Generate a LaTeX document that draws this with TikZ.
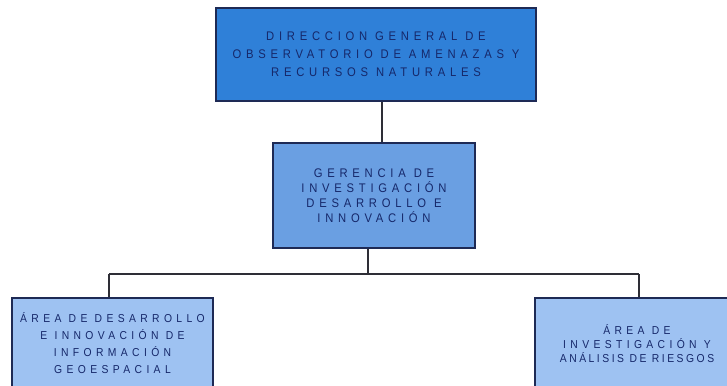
\documentclass[tikz,border=0pt]{standalone}
\usepackage{fontspec}
\setmainfont{Liberation Sans}[LetterSpace=38,FakeStretch=0.9]
\newfontfamily\tightfont{Liberation Sans}[LetterSpace=22,FakeStretch=0.9]
\begin{document}
\begin{tikzpicture}[x=1pt,y=-1pt,
  box/.style={draw=boxedge,line width=1.4pt,align=center,inner sep=0pt,text=textblue,
    font=\fontsize{12.5}{18}\selectfont},
  conn/.style={draw=lineclr,line width=1.3pt}]
\definecolor{boxedge}{HTML}{1E2A55}
\definecolor{lineclr}{HTML}{2E2E36}
\definecolor{textblue}{HTML}{16286A}
\definecolor{topfill}{HTML}{2F80D8}
\definecolor{midfill}{HTML}{6A9FE2}
\definecolor{lowfill}{HTML}{9EC2F2}
\useasboundingbox (0,0) rectangle (727,385);
\clip (0,0) rectangle (727,385);
\fill[white] (0,0) rectangle (727,385);
\node[box,fill=topfill,minimum width=320pt,minimum height=93pt] (top) at (376,54.5)
  {DIRECCION GENERAL DE\\OBSERVATORIO DE AMENAZAS Y\\RECURSOS NATURALES};
\node[box,fill=midfill,minimum width=202pt,minimum height=105pt,font=\fontsize{12.5}{15}\selectfont] (mid) at (374,195.5)
  {GERENCIA DE\\INVESTIGACIÓN\\DESARROLLO E\\INNOVACIÓN};
\node[box,fill=lowfill,minimum width=201pt,minimum height=90pt,font=\fontsize{11.5}{17}\selectfont] (left) at (112.5,343)
  {ÁREA DE DESARROLLO\\E INNOVACIÓN DE\\INFORMACIÓN\\GEOESPACIAL};
\node[box,fill=lowfill,minimum width=204pt,minimum height=92pt,font=\fontsize{11.5}{14}\selectfont] (right) at (637,344)
  {ÁREA DE\\INVESTIGACIÓN Y\\{\tightfont ANÁLISIS DE RIESGOS}};
\coordinate (busL) at (109,274);
\coordinate (busR) at (639,274);
\draw[conn] ([xshift=6pt]top.south) -- ([xshift=6pt]top.south |- mid.north);
\draw[conn] ([xshift=-6pt]mid.south) -- ([xshift=-6pt]mid.south |- busL);
\draw[conn] (busL) -- (busR);
\draw[conn] (busL) -- (busL |- left.north);
\draw[conn] (busR) -- (busR |- right.north);
\end{tikzpicture}
\end{document}
